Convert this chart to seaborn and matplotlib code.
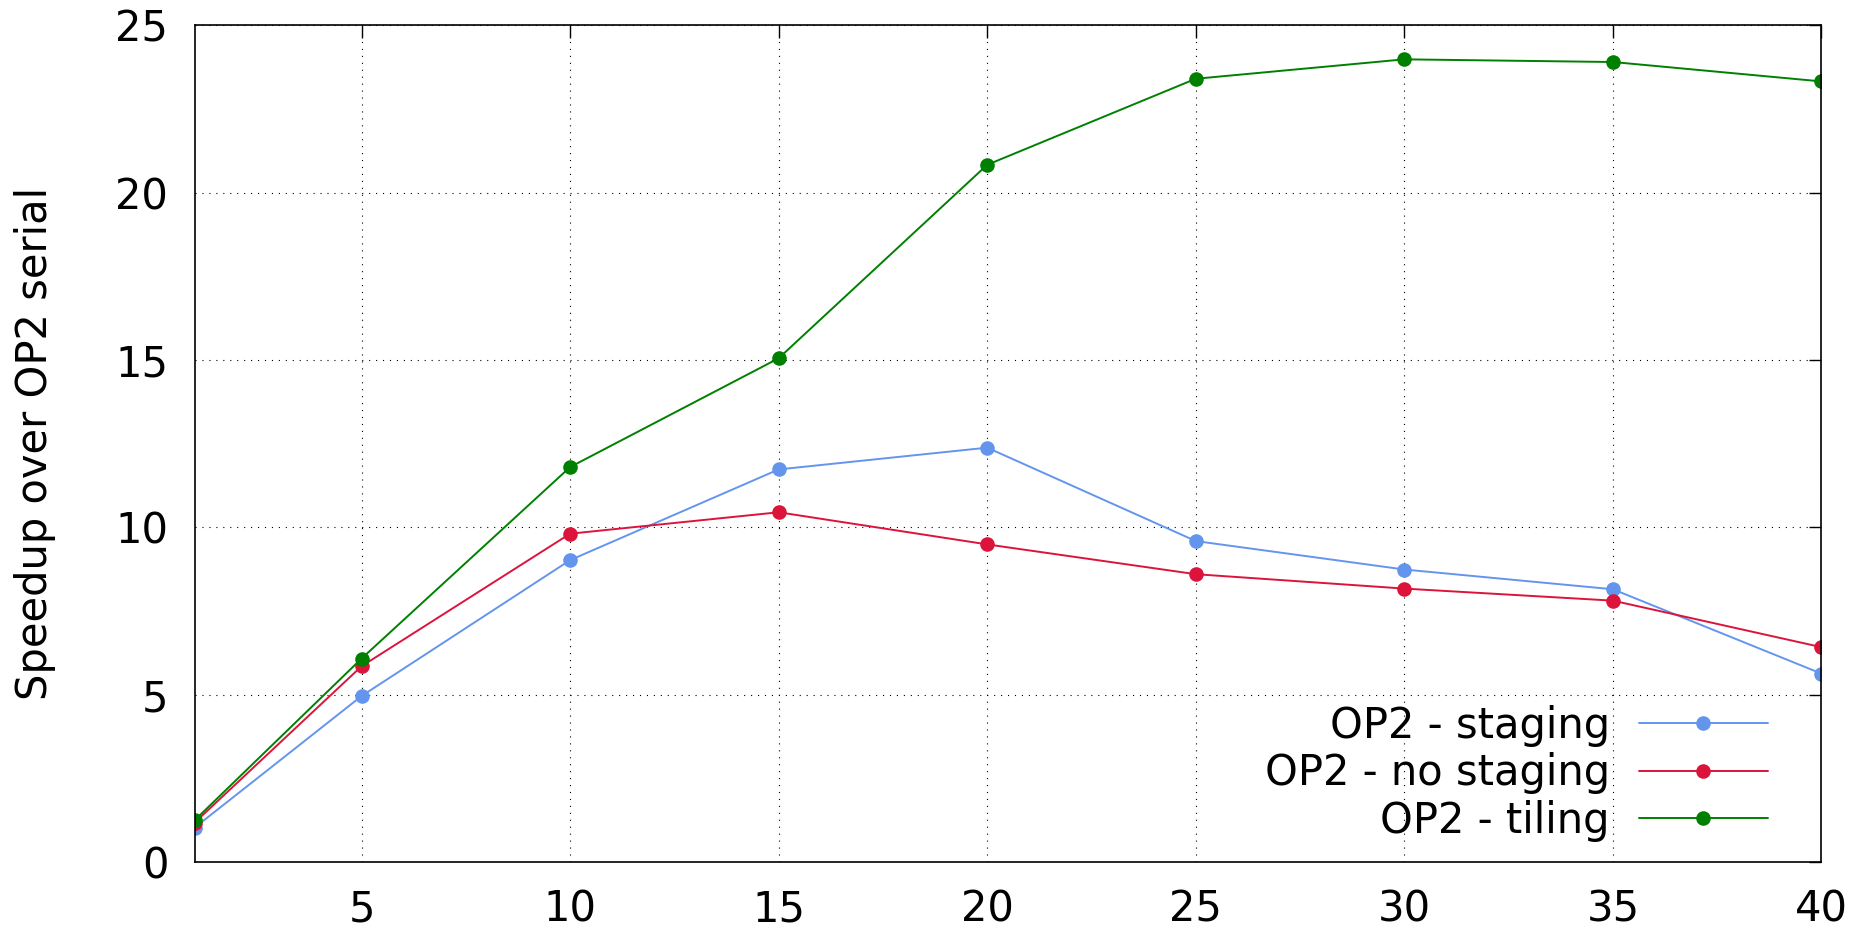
import matplotlib
matplotlib.use("Agg")
import matplotlib.pyplot as plt
import seaborn as sns
import pandas as pd

threads = [1, 5, 10, 15, 20, 25, 30, 35, 40]
staging = [1.03, 4.96, 9.02, 11.73, 12.38, 9.59, 8.74, 8.15, 5.63]
no_staging = [1.18, 5.85, 9.81, 10.45, 9.49, 8.60, 8.17, 7.81, 6.42]
tiling = [1.25, 6.08, 11.80, 15.05, 20.83, 23.40, 23.98, 23.90, 23.32]
series_names = ["OP2 - staging", "OP2 - no staging", "OP2 - tiling"]
colors = ["#6495ED", "#DC143C", "#008000"]
ylabel = "Speedup over OP2 serial"
xticks = [5, 10, 15, 20, 25, 30, 35, 40]
yticks = [0, 5, 10, 15, 20, 25]

rows = []
for name, vals in zip(series_names, [staging, no_staging, tiling]):
    for t, v in zip(threads, vals):
        rows.append({"threads": t, "speedup": v, "series": name})
df = pd.DataFrame(rows)

sns.set_style("white")
plt.rcParams["font.family"] = ["DejaVu Sans"]
plt.rcParams["text.color"] = "black"
plt.rcParams["axes.labelcolor"] = "black"
plt.rcParams["xtick.color"] = "black"
plt.rcParams["ytick.color"] = "black"

fig = plt.figure(figsize=(18.72, 9.33), dpi=100)
ax = fig.add_axes([0.104, 0.076, 0.869, 0.897])

sns.lineplot(data=df, x="threads", y="speedup", hue="series",
             hue_order=series_names, palette=colors, marker="o",
             markersize=10.5, markeredgewidth=0, linewidth=1.4, ax=ax,
             legend=True)

ax.set_xlim(1, 40)
ax.set_ylim(0, 25)
ax.set_xticks(xticks)
ax.set_yticks(yticks)
ax.set_xlabel("")
ax.set_ylabel(ylabel, fontsize=30, va="center")
ax.yaxis.set_label_coords(-0.098, 0.5)
ax.tick_params(axis="both", which="both", direction="in", length=9,
               width=1.0, labelsize=30, top=True, right=True, color="black",
               labelcolor="black", pad=19)
ax.grid(True, color="black", linestyle=(0, (1, 5.25)), linewidth=0.8)
for s in ax.spines.values():
    s.set_color("black")
    s.set_linewidth(1.2)

handles, labels = ax.get_legend_handles_labels()
leg = ax.legend(handles, labels, loc="lower right", frameon=False,
                fontsize=30, markerfirst=False, handlelength=3.1,
                handletextpad=0.69, labelspacing=0.135, borderpad=0,
                borderaxespad=0, bbox_to_anchor=(0.967, 0.024))

fig.savefig("out.png", dpi=100)
